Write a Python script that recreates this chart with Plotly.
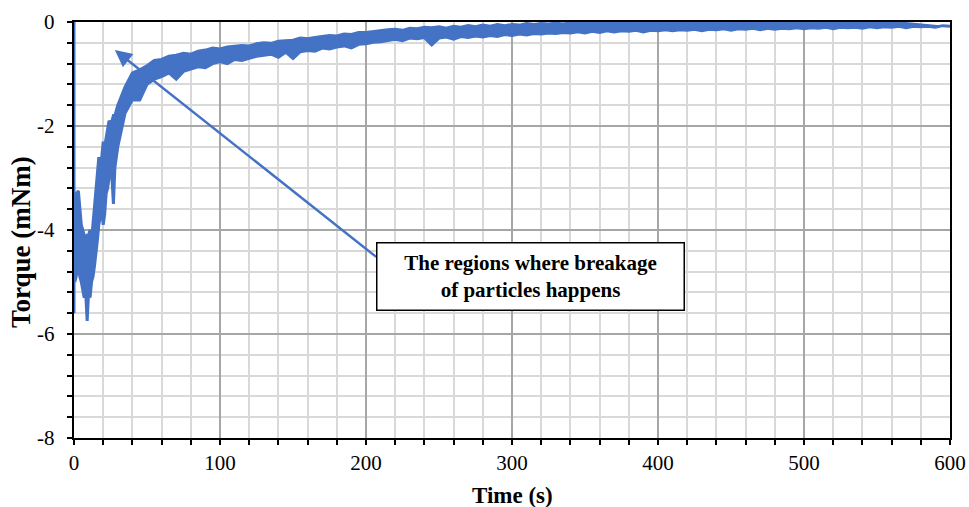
import plotly.graph_objects as go

BLUE = "#4472C4"
SERIF = "Liberation Serif, Times New Roman, serif"

# initial drop at t = 0
t_start = [0, 0]
v_start = [0, -5.6]

# band of the noisy torque signal (upper / lower edges)
t_env = [0.5, 1.5, 3, 4, 5, 6, 7, 8, 9, 10, 11, 12, 13, 14, 15, 16, 17, 18, 19, 20,
         21, 22, 23, 24, 25, 26, 27, 28, 29,
         30, 35, 40, 45, 50, 55, 60, 65, 70, 75, 80, 85, 90, 95, 100, 105, 110, 115,
         120, 125, 130, 135, 140, 145, 150, 155, 160, 165, 170, 175, 180, 185, 190, 195,
         200, 205, 210, 215, 220, 225, 230, 235, 240, 245, 250, 255, 260, 265, 270, 275,
         280, 285, 290, 295, 300, 305, 310, 315, 320, 325, 330, 335, 340, 345, 350, 355,
         360, 365, 370, 375, 380, 385, 390, 395, 400, 405, 410, 415, 420, 425, 430, 435,
         440, 445, 450, 455, 460, 465, 470, 475, 480, 485, 490, 495, 500, 505, 510, 515,
         520, 525, 530, 535, 540, 545, 550, 555, 560, 565, 570, 575, 580, 585, 590, 595,
         600]
upper = [-3.4, -3.3, -3.25, -3.6, -3.9, -4.0, -4.1, -4.3, -4.1, -4.1, -4.0, -4.2,
         -3.9, -3.6, -3.3, -2.9, -2.6, -2.9, -2.5, -2.3, -2.4, -2.2, -2.0, -1.9, -1.95,
         -1.9, -1.8, -1.8, -1.7,
         -1.6, -1.25, -0.98, -0.92, -0.84, -0.74, -0.72, -0.66, -0.64, -0.6, -0.62, -0.56,
         -0.54, -0.5, -0.52, -0.48, -0.47, -0.45, -0.46, -0.42, -0.4, -0.41, -0.37, -0.36,
         -0.35, -0.31, -0.32, -0.3, -0.28, -0.26, -0.27, -0.23, -0.24, -0.2, -0.2, -0.18,
         -0.17, -0.15, -0.14, -0.16, -0.12, -0.13, -0.1, -0.11, -0.09, -0.12, -0.08, -0.1,
         -0.07, -0.09, -0.06, -0.08, -0.05, -0.07, -0.05, -0.06, -0.03, -0.05, -0.03,
         -0.04, -0.02, -0.04, -0.01, -0.03, -0.01, -0.02, 0, -0.02, 0, -0.01, 0, -0.02,
         0, -0.01, 0, -0.02, 0, -0.01, 0, -0.02, 0, -0.01, 0, -0.02, 0, -0.01, 0, -0.02,
         0, -0.01, 0, -0.02, 0, -0.01, 0, -0.02, 0, -0.01, 0, -0.02, 0, -0.01, 0, -0.02,
         0, -0.01, 0, -0.02, 0]
lower = [-5.0, -4.9, -4.6, -4.9, -5.0, -5.2, -5.3, -5.2, -5.75, -5.2, -5.3, -5.0,
         -4.9, -4.7, -4.5, -4.2, -3.9, -3.7, -3.6, -3.9, -3.7, -3.3, -3.2, -3.0, -2.9,
         -3.0, -3.5, -2.8, -2.6,
         -2.4, -1.75, -1.5, -1.5, -1.2, -1.1, -1.05, -0.98, -1.1, -0.95, -0.9, -0.86,
         -0.88, -0.8, -0.76, -0.8, -0.72, -0.74, -0.7, -0.66, -0.64, -0.62, -0.68, -0.58,
         -0.7, -0.57, -0.55, -0.56, -0.5, -0.52, -0.48, -0.46, -0.5, -0.43, -0.42, -0.39,
         -0.38, -0.35, -0.33, -0.36, -0.31, -0.32, -0.3, -0.44, -0.31, -0.29, -0.33, -0.28,
         -0.3, -0.27, -0.29, -0.26, -0.28, -0.24, -0.26, -0.23, -0.25, -0.22, -0.23,
         -0.21, -0.22, -0.2, -0.21, -0.19, -0.21, -0.18, -0.2, -0.17, -0.19, -0.17, -0.18,
         -0.16, -0.19, -0.16, -0.17, -0.15, -0.17, -0.15, -0.16, -0.14, -0.17, -0.14,
         -0.15, -0.13, -0.16, -0.13, -0.14, -0.12, -0.15, -0.12, -0.14, -0.12, -0.13,
         -0.11, -0.13, -0.11, -0.12, -0.1, -0.13, -0.1, -0.11, -0.1, -0.12, -0.09, -0.11,
         -0.09, -0.1, -0.08, -0.11, -0.08, -0.09, -0.08, -0.1, -0.07, -0.08]

x_ticks = [0, 100, 200, 300, 400, 500, 600]
y_ticks = [0, -2, -4, -6, -8]

x_title = "<b>Time (s)</b>"
y_title = "<b>Torque (mNm)</b>"
note_text = "<b>The regions where breakage<br>of particles happens</b>"
arrow_head = (28, -0.54)
arrow_tail = (208, -4.54)
note_pos = (312.7, -4.89)

fig = go.Figure()
fig.add_trace(go.Scatter(x=t_start, y=v_start, mode="lines",
                         line=dict(color=BLUE, width=3), showlegend=False))
fig.add_trace(go.Scatter(x=t_env, y=lower, mode="lines",
                         line=dict(color=BLUE, width=3), showlegend=False))
fig.add_trace(go.Scatter(x=t_env, y=upper, mode="lines", fill="tonexty",
                         fillcolor=BLUE, line=dict(color=BLUE, width=3),
                         showlegend=False))

fig.add_annotation(x=arrow_head[0], y=arrow_head[1], ax=arrow_tail[0], ay=arrow_tail[1],
                   axref="x", ayref="y", xref="x", yref="y", text="", showarrow=True,
                   arrowhead=2, arrowsize=1.35, arrowwidth=2.5, arrowcolor=BLUE)
fig.add_annotation(x=note_pos[0], y=note_pos[1], xref="x", yref="y", text=note_text,
                   showarrow=False, font=dict(family=SERIF, size=21, color="black"),
                   bordercolor="black", borderwidth=1.5, bgcolor="white",
                   width=302, height=62, borderpad=2)

# y tick labels (placed a little further from the axis, as in the original)
for v in y_ticks:
    fig.add_annotation(x=0, xref="paper", y=v, yref="y", text=str(v), showarrow=False,
                       xanchor="right", yanchor="middle", xshift=-17,
                       font=dict(family=SERIF, size=21, color="black"))

# axis titles
fig.add_annotation(x=0.5, xref="paper", y=0, yref="paper", text=x_title, showarrow=False,
                   xanchor="center", yanchor="top", yshift=-43,
                   font=dict(family=SERIF, size=23, color="black"))
fig.add_annotation(x=0, xref="paper", y=0.5, yref="paper", text=y_title, showarrow=False,
                   textangle=-90, xanchor="center", yanchor="middle", xshift=-53, yshift=-12,
                   font=dict(family=SERIF, size=27, color="black"))

axis_common = dict(showline=True, linecolor="black", linewidth=2, mirror=True,
                   ticks="outside", ticklen=5, tickwidth=1.5, tickcolor="black",
                   showgrid=True, gridcolor="#a6a6a6", gridwidth=1.5, zeroline=False,
                   layer="below traces", automargin=False,
                   tickfont=dict(family=SERIF, size=21, color="black"))

fig.update_xaxes(range=[0, 600], tickvals=x_ticks, ticktext=[str(v) for v in x_ticks],
                 ticklabelstandoff=0,
                 minor=dict(dtick=20, showgrid=True, gridcolor="#d9d9d9", gridwidth=1.5,
                            ticks="outside", ticklen=5, tickcolor="black", tickwidth=1.5),
                 **axis_common)
fig.update_yaxes(range=[-8, 0], tickvals=y_ticks, showticklabels=False,
                 minor=dict(dtick=0.4, showgrid=True, gridcolor="#d9d9d9", gridwidth=1.5,
                            ticks="outside", ticklen=5, tickcolor="black", tickwidth=1.5),
                 **axis_common)

fig.update_layout(width=969, height=507, margin=dict(l=74, r=19, t=22, b=69),
                  plot_bgcolor="white", paper_bgcolor="white", showlegend=False,
                  font=dict(family=SERIF))

fig.write_html("out.html")
